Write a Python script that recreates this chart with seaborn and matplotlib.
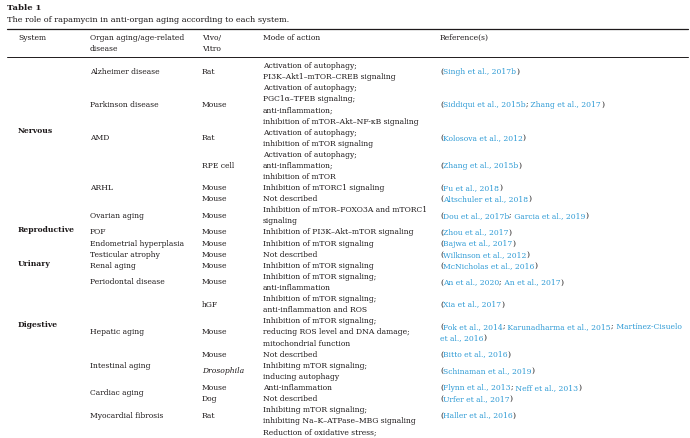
import re
import matplotlib
matplotlib.use('Agg')
import matplotlib.pyplot as plt
import seaborn as sns

# table content
title = 'Table 1'
caption = 'The role of rapamycin in anti-organ aging according to each system.'
headers = ['System', 'Organ aging/age-related\ndisease', 'Vivo/\nVitro', 'Mode of action', 'Reference(s)']

system_names = ['Nervous', 'Reproductive', 'Urinary', 'Digestive']
system_rows = [6, 4, 1, 5]

# None = merged with the row above
organs = ['Alzheimer disease', 'Parkinson disease', 'AMD', '', 'ARHL', '', 'Ovarian aging', 'POF',
          'Endometrial hyperplasia', 'Testicular atrophy', 'Renal aging', 'Periodontal disease', '',
          'Hepatic aging', 'Intestinal aging', None, 'Cardiac aging', None, 'Myocardial fibrosis', '']
vivo = ['Rat', 'Mouse', 'Rat', 'RPE cell', 'Mouse', 'Mouse', 'Mouse', 'Mouse', 'Mouse', 'Mouse', 'Mouse',
        'Mouse', 'hGF', 'Mouse', 'Mouse', 'Drosophila', 'Mouse', 'Dog', 'Rat', '']
modes = [
    ['Activation of autophagy;', 'PI3K–Akt1–mTOR–CREB signaling'],
    ['Activation of autophagy;', 'PGC1α–TFEB signaling;', 'anti-inflammation;',
     'inhibition of mTOR–Akt–NF-κB signaling'],
    ['Activation of autophagy;', 'inhibition of mTOR signaling'],
    ['Activation of autophagy;', 'anti-inflammation;', 'inhibition of mTOR'],
    ['Inhibition of mTORC1 signaling'],
    ['Not described'],
    ['Inhibition of mTOR–FOXO3A and mTORC1', 'signaling'],
    ['Inhibition of PI3K–Akt–mTOR signaling'],
    ['Inhibition of mTOR signaling'],
    ['Not described'],
    ['Inhibition of mTOR signaling'],
    ['Inhibition of mTOR signaling;', 'anti-inflammation'],
    ['Inhibition of mTOR signaling;', 'anti-inflammation and ROS'],
    ['Inhibition of mTOR signaling;', 'reducing ROS level and DNA damage;', 'mitochondrial function'],
    ['Not described'],
    ['Inhibiting mTOR signaling;', 'inducing autophagy'],
    ['Anti-inflammation'],
    ['Not described'],
    ['Inhibiting mTOR signaling;', 'inhibiting Na–K–ATPase–MBG signaling'],
    ['Reduction of oxidative stress;'],
]
refs = [
    '(Singh et al., 2017b)',
    '(Siddiqui et al., 2015b; Zhang et al., 2017)',
    '(Kolosova et al., 2012)',
    '(Zhang et al., 2015b)',
    '(Fu et al., 2018)',
    '(Altschuler et al., 2018)',
    '(Dou et al., 2017b; Garcia et al., 2019)',
    '(Zhou et al., 2017)',
    '(Bajwa et al., 2017)',
    '(Wilkinson et al., 2012)',
    '(McNicholas et al., 2016)',
    '(An et al., 2020; An et al., 2017)',
    '(Xia et al., 2017)',
    '(Fok et al., 2014; Karunadharma et al., 2015; Martínez-Cisuelo\net al., 2016)',
    '(Bitto et al., 2016)',
    '(Schinaman et al., 2019)',
    '(Flynn et al., 2013; Neff et al., 2013)',
    '(Urfer et al., 2017)',
    '(Haller et al., 2016)',
    '',
]

sns.set_theme(style='white')
plt.rcParams['font.family'] = ['DejaVu Serif']

ink = '#1e1a1b'
blue = '#2f9bd5'
fs = 5.5

fig = plt.figure(figsize=(6.9, 4.38), dpi=100)
ax = fig.add_axes([0, 0, 1, 1])
ax.set_xlim(0, 690)
ax.set_ylim(438, 0)
ax.axis('off')
renderer = fig.canvas.get_renderer()

col_x = [18, 90, 202, 263, 440]
y0, dy = 66, 11.1


def text_w(s):
    t = ax.text(0, 0, s, fontsize=fs)
    w = t.get_window_extent(renderer).width
    t.remove()
    return w


def draw_ref(x, y, line):
    # brackets and semicolons black, citations blue
    parts = [p for p in re.split(r'([();])', line) if p]
    bar = text_w('|')
    prefix = ''
    for p in parts:
        off = text_w(prefix + '|') - bar if prefix else 0
        c = ink if p in '();' else blue
        ax.text(x + off, y, p, fontsize=fs, color=c, va='center', ha='left')
        prefix += p


# title and caption
ax.text(7, 8, title, fontsize=6.0, fontweight='bold', color=ink, va='center')
ax.text(7, 20, caption, fontsize=5.9, color=ink, va='center')
ax.plot([7, 688], [29, 29], color=ink, lw=0.9)
ax.plot([7, 688], [57, 57], color=ink, lw=0.7)

for x, h in zip(col_x, headers):
    for k, s in enumerate(h.split('\n')):
        ax.text(x, 38 + k * 11, s, fontsize=fs, color=ink, va='center')

# row layout from line counts
starts = []
n = 0
for m in modes:
    starts.append(n)
    n += len(m)

def center(r0, r1):
    a = starts[r0]
    b = starts[r1] + len(modes[r1]) - 1
    return y0 + (a + b) / 2 * dy

for i, m in enumerate(modes):
    for k, s in enumerate(m):
        ax.text(col_x[3], y0 + (starts[i] + k) * dy, s, fontsize=fs, color=ink, va='center')
    yc = center(i, i)
    if vivo[i]:
        ax.text(col_x[2], yc, vivo[i], fontsize=fs, color=ink, va='center',
                style='italic' if vivo[i] == 'Drosophila' else 'normal')
    if organs[i]:
        j = i
        while j + 1 < len(organs) and organs[j + 1] is None:
            j += 1
        ax.text(col_x[1], center(i, j), organs[i], fontsize=fs, color=ink, va='center')
    if refs[i]:
        rl = refs[i].split('\n')
        for k, s in enumerate(rl):
            draw_ref(col_x[4], yc + (k - (len(rl) - 1) / 2) * dy, s)

r = 0
for name, cnt in zip(system_names, system_rows):
    ax.text(col_x[0], center(r, r + cnt - 1) - 2, name, fontsize=fs, fontweight='bold',
            color=ink, va='center')
    r += cnt

fig.savefig('out.png', dpi=100)
